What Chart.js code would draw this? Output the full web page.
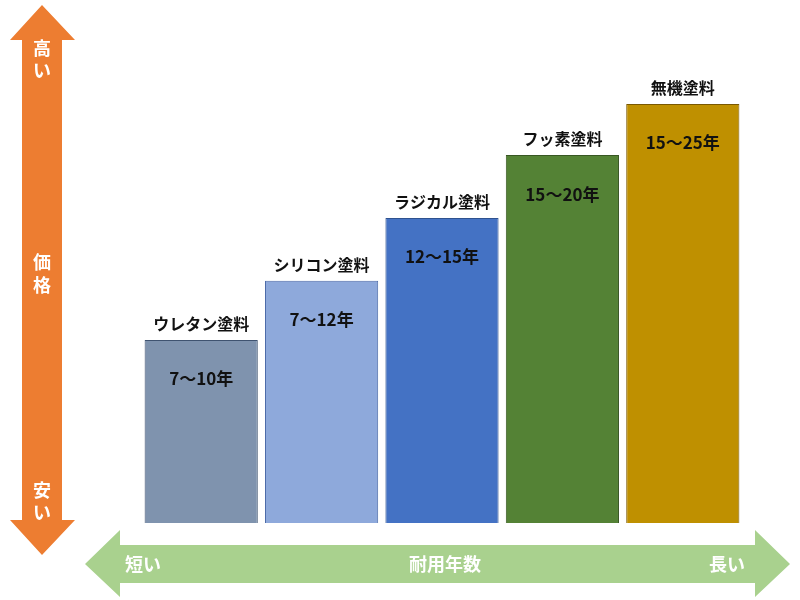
<!DOCTYPE html><html><head><meta charset="utf-8"><script src="https://cdn.jsdelivr.net/npm/chart.js"></script>
<style>body{margin:0;background:#fff}#w{width:800px;height:600px}</style></head><body><div id="w"><canvas id="c"></canvas></div>
<script>
const categories=["ウレタン塗料","シリコン塗料","ラジカル塗料","フッ素塗料","無機塗料"];
const priceIndex=[43.7,57.8,72.8,87.8,100];
const lifeLabels=["7～10年","7～12年","12～15年","15～20年","15～25年"];
const colors=["#7F93AE","#8EA9DB","#4472C4","#548235","#BF9000"];
const borders=["#3F5370","#4B6AA8","#2F528F","#385723","#7A5800"];
const F='"Noto Sans CJK JP", sans-serif';
const deco={id:'deco',beforeDraw(ch){const c=ch.ctx;c.save();
c.fillStyle='#ED7D31';c.beginPath();
c.moveTo(42,5);c.lineTo(75,40);c.lineTo(62,40);c.lineTo(62,520);c.lineTo(75,520);c.lineTo(42,555);c.lineTo(10,520);c.lineTo(22,520);c.lineTo(22,40);c.lineTo(10,40);c.closePath();c.fill();
c.fillStyle='#A9D18E';c.beginPath();
c.moveTo(85,564);c.lineTo(120,530);c.lineTo(120,545);c.lineTo(755,545);c.lineTo(755,530);c.lineTo(790,564);c.lineTo(755,597);c.lineTo(755,583);c.lineTo(120,583);c.lineTo(120,597);c.closePath();c.fill();
c.fillStyle='#fff';c.font='bold 18px '+F;c.textAlign='center';c.textBaseline='middle';
[['高',48],['い',70],['価',262],['格',285],['安',490],['い',512]].forEach(([t,y])=>c.fillText(t,42,y));
c.fillText('短い',143,564);c.fillText('耐用年数',445,564);c.fillText('長い',727,564);
c.restore();},
afterDatasetsDraw(ch){const c=ch.ctx;c.save();c.fillStyle='#111';c.textAlign='center';c.textBaseline='middle';
ch.getDatasetMeta(0).data.forEach((b,i)=>{c.font='bold 16px '+F;c.fillText(categories[i],b.x,b.y-16);c.font='bold 17px '+F;c.fillText(lifeLabels[i],b.x,b.y+39);});c.restore();}};
new Chart(document.getElementById('c'),{type:'bar',data:{labels:categories,datasets:[{data:priceIndex,backgroundColor:colors,borderColor:borders,borderWidth:1,barPercentage:0.94,categoryPercentage:1}]},
options:{responsive:true,maintainAspectRatio:false,animation:false,layout:{padding:{left:141,right:57,top:104,bottom:77}},
plugins:{legend:{display:false},tooltip:{enabled:false}},scales:{x:{display:false},y:{display:false,min:0,max:100}}},plugins:[deco]});
</script></body></html>
